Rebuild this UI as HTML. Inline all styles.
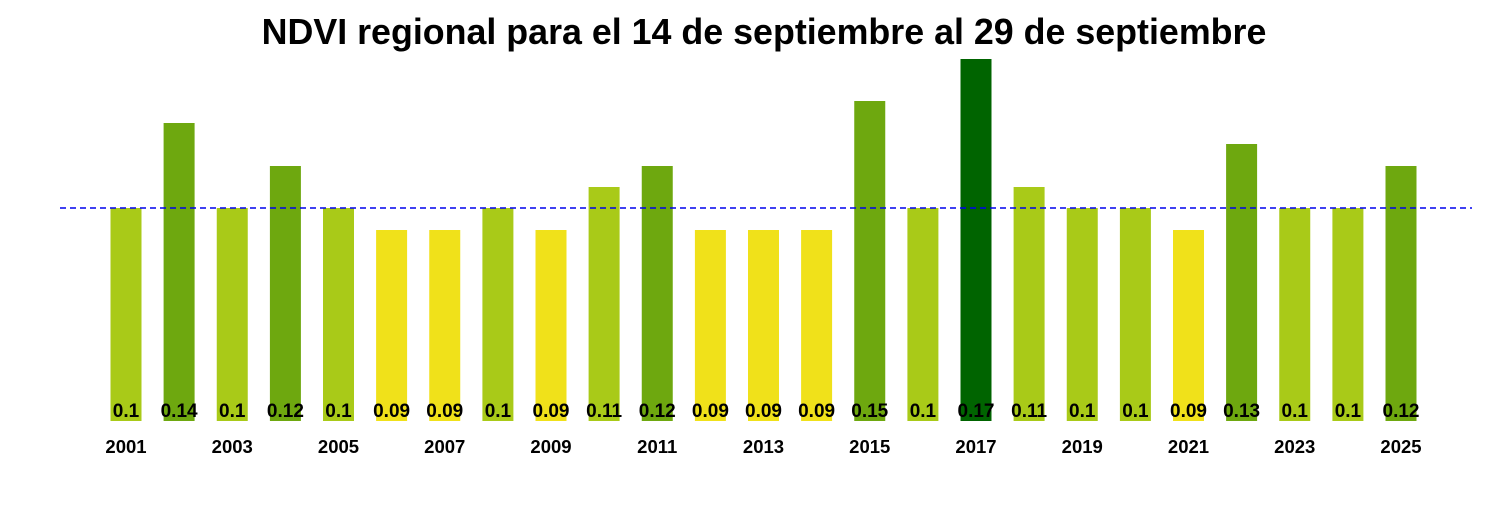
<!DOCTYPE html>
<html><head><meta charset="utf-8"><style>body{margin:0;background:#fff}</style></head><body>
<svg width="1500" height="500" xmlns="http://www.w3.org/2000/svg" font-family="Liberation Sans, Arial, sans-serif" font-weight="bold">
<text x="764" y="44" font-size="35.8" text-anchor="middle">NDVI regional para el 14 de septiembre al 29 de septiembre</text>
<g>
<rect x="110.5" y="208" width="31" height="213" fill="#A9CA18"/>
<rect x="163.6" y="123" width="31" height="298" fill="#6EA80F"/>
<rect x="216.75" y="208" width="31" height="213" fill="#A9CA18"/>
<rect x="269.9" y="166" width="31" height="255" fill="#6EA80F"/>
<rect x="323" y="208" width="31" height="213" fill="#A9CA18"/>
<rect x="376.1" y="230" width="31" height="191" fill="#F0E11A"/>
<rect x="429.25" y="230" width="31" height="191" fill="#F0E11A"/>
<rect x="482.4" y="208" width="31" height="213" fill="#A9CA18"/>
<rect x="535.5" y="230" width="31" height="191" fill="#F0E11A"/>
<rect x="588.6" y="187" width="31" height="234" fill="#A9CA18"/>
<rect x="641.75" y="166" width="31" height="255" fill="#6EA80F"/>
<rect x="694.9" y="230" width="31" height="191" fill="#F0E11A"/>
<rect x="748" y="230" width="31" height="191" fill="#F0E11A"/>
<rect x="801.1" y="230" width="31" height="191" fill="#F0E11A"/>
<rect x="854.25" y="101" width="31" height="320" fill="#6EA80F"/>
<rect x="907.4" y="208" width="31" height="213" fill="#A9CA18"/>
<rect x="960.5" y="59" width="31" height="362" fill="#006400"/>
<rect x="1013.6" y="187" width="31" height="234" fill="#A9CA18"/>
<rect x="1066.75" y="208" width="31" height="213" fill="#A9CA18"/>
<rect x="1119.9" y="208" width="31" height="213" fill="#A9CA18"/>
<rect x="1173" y="230" width="31" height="191" fill="#F0E11A"/>
<rect x="1226.1" y="144" width="31" height="277" fill="#6EA80F"/>
<rect x="1279.25" y="208" width="31" height="213" fill="#A9CA18"/>
<rect x="1332.4" y="208" width="31" height="213" fill="#A9CA18"/>
<rect x="1385.5" y="166" width="31" height="255" fill="#6EA80F"/>
</g>
<line x1="60" y1="208" x2="1472" y2="208" stroke="#0000EE" stroke-width="1.5" stroke-dasharray="6,4"/>
<g font-size="19" text-anchor="middle">
<text x="126" y="417">0.1</text>
<text x="179.1" y="417">0.14</text>
<text x="232.25" y="417">0.1</text>
<text x="285.4" y="417">0.12</text>
<text x="338.5" y="417">0.1</text>
<text x="391.6" y="417">0.09</text>
<text x="444.75" y="417">0.09</text>
<text x="497.9" y="417">0.1</text>
<text x="551" y="417">0.09</text>
<text x="604.1" y="417">0.11</text>
<text x="657.25" y="417">0.12</text>
<text x="710.4" y="417">0.09</text>
<text x="763.5" y="417">0.09</text>
<text x="816.6" y="417">0.09</text>
<text x="869.75" y="417">0.15</text>
<text x="922.9" y="417">0.1</text>
<text x="976" y="417">0.17</text>
<text x="1029.1" y="417">0.11</text>
<text x="1082.25" y="417">0.1</text>
<text x="1135.4" y="417">0.1</text>
<text x="1188.5" y="417">0.09</text>
<text x="1241.6" y="417">0.13</text>
<text x="1294.75" y="417">0.1</text>
<text x="1347.9" y="417">0.1</text>
<text x="1401" y="417">0.12</text>
</g>
<g font-size="18.5" text-anchor="middle">
<text x="126" y="453">2001</text>
<text x="232.25" y="453">2003</text>
<text x="338.5" y="453">2005</text>
<text x="444.75" y="453">2007</text>
<text x="551" y="453">2009</text>
<text x="657.25" y="453">2011</text>
<text x="763.5" y="453">2013</text>
<text x="869.75" y="453">2015</text>
<text x="976" y="453">2017</text>
<text x="1082.25" y="453">2019</text>
<text x="1188.5" y="453">2021</text>
<text x="1294.75" y="453">2023</text>
<text x="1401" y="453">2025</text>
</g>
</svg>
</body></html>
